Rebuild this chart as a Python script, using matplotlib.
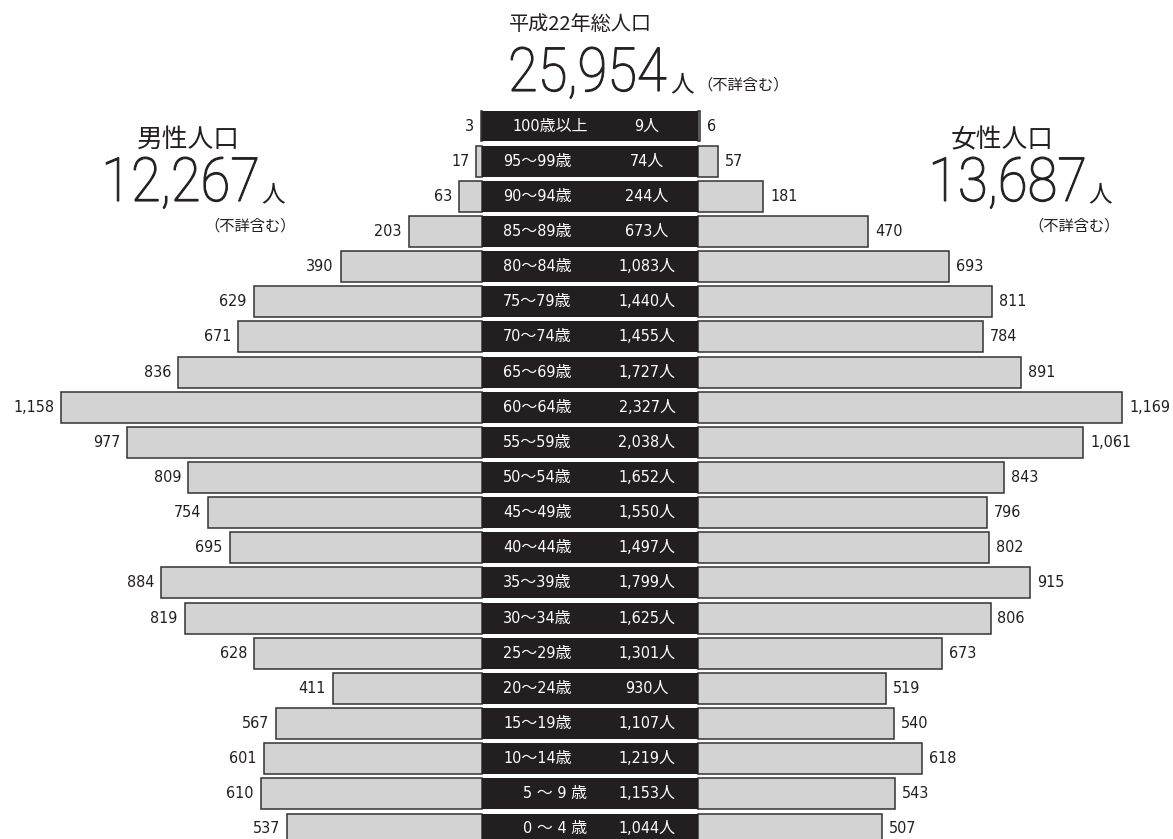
import matplotlib
matplotlib.use('Agg')
import matplotlib.pyplot as plt
from matplotlib.textpath import TextPath
from matplotlib.patches import PathPatch
from matplotlib.font_manager import FontProperties
from matplotlib.transforms import Affine2D, IdentityTransform

# age groups, top row first
ages = ['100歳以上', '95〜99歳', '90〜94歳', '85〜89歳', '80〜84歳', '75〜79歳',
        '70〜74歳', '65〜69歳', '60〜64歳', '55〜59歳', '50〜54歳', '45〜49歳',
        '40〜44歳', '35〜39歳', '30〜34歳', '25〜29歳', '20〜24歳', '15〜19歳',
        '10〜14歳', '5 〜 9 歳', '0 〜 4 歳']
male = [3, 17, 63, 203, 390, 629, 671, 836, 1158, 977, 809, 754, 695, 884,
        819, 628, 411, 567, 601, 610, 537]
female = [6, 57, 181, 470, 693, 811, 784, 891, 1169, 1061, 843, 796, 802, 915,
          806, 673, 519, 540, 618, 543, 507]

title = '平成22年総人口'
total_all = '25,954'
male_title = '男性人口'
male_total = '12,267'
female_title = '女性人口'
female_total = '13,687'
note = '（不詳含む）'

DARK = '#231f20'
GRAY = '#d3d3d3'
NUM = ['DejaVu Sans', 'Noto Sans CJK JP']
JP = ['Noto Sans CJK JP', 'DejaVu Sans']

W, H = 1173, 839
fig = plt.figure(figsize=(W / 100, H / 100), dpi=100)
ax = fig.add_axes([0, 0, 1, 1])
ax.set_xlim(-1623, 1604)
ax.set_ylim(-0.2845, 23.585)
ax.axis('off')

half = 296
n = len(ages)
ys = [n - 1 - k for k in range(n)]
pad = 19

ax.barh(ys, [-v for v in male], left=-half, height=0.88, color=GRAY,
        edgecolor='#333333', linewidth=1.1, zorder=2)
ax.barh(ys, female, left=half, height=0.88, color=GRAY,
        edgecolor='#333333', linewidth=1.1, zorder=2)
ax.barh(ys, 2 * half, left=-half, height=0.88, color=DARK, zorder=3)

for k in range(n):
    y = ys[k]
    ax.text(-half - male[k] - pad, y, f'{male[k]:,}', ha='right', va='center',
            fontsize=11.5, family=NUM, stretch='condensed', color=DARK)
    ax.text(half + female[k] + pad, y, f'{female[k]:,}', ha='left', va='center',
            fontsize=11.5, family=NUM, stretch='condensed', color=DARK)
    ax_x = -239
    if ages[k] == '100歳以上':
        ax_x = -214
    elif ' ' in ages[k]:
        ax_x = -184
    ax.text(ax_x, y, ages[k], ha='left', va='center', fontsize=11.5,
            family=NUM, stretch='condensed', color='white', zorder=4)
    ax.text(157, y, f'{male[k] + female[k]:,}人', ha='center', va='center',
            fontsize=11.5, family=NUM, stretch='condensed', color='white', zorder=4)


def px(x, y):
    return x / W, 1 - y / H


big_font = FontProperties(family='Roboto', weight='light')


def big_number(x_right, y_base, number, note_x, note_y):
    # tall, narrow digits: squeeze a text path horizontally
    tp = TextPath((0, 0), number, size=61, prop=big_font)
    bb = tp.get_extents()
    tr = (Affine2D().translate(-bb.x1, 0).scale(0.89, 1)
          .translate(x_right, H - y_base))
    fig.add_artist(PathPatch(tr.transform_path(tp), facecolor=DARK,
                             edgecolor=DARK, lw=0.8,
                             transform=IdentityTransform()))
    fig.text(*px(x_right + 4, y_base), '人', ha='left', va='baseline',
             fontsize=17, family=JP, color=DARK)
    fig.text(*px(note_x, note_y), note, ha='left', va='center',
             fontsize=11, family=JP, color=DARK)


fig.text(*px(580, 25), title, ha='center', va='center', fontsize=14.5,
         family=JP, color=DARK)
big_number(666, 91, total_all, 697, 85)

fig.text(*px(188, 140), male_title, ha='center', va='center', fontsize=18.5,
         family=JP, color=DARK)
big_number(257, 201, male_total, 204, 226)

fig.text(*px(1002, 140), female_title, ha='center', va='center', fontsize=18.5,
         family=JP, color=DARK)
big_number(1084, 201, female_total, 1028, 226)

plt.savefig('out.png', dpi=100)
